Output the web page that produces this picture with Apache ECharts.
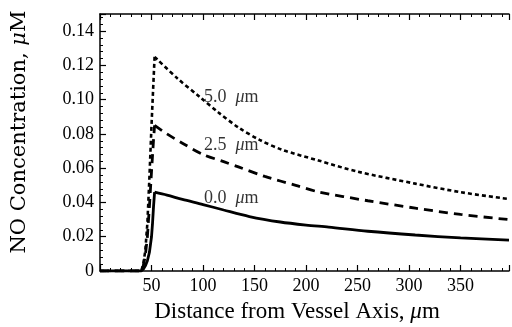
<!DOCTYPE html>
<html>
<head>
<meta charset="utf-8">
<script src="https://cdn.jsdelivr.net/npm/echarts@6/dist/echarts.min.js"></script>
<style>html,body{margin:0;padding:0;background:#fff}#c{width:512px;height:327px}</style>
</head>
<body>
<div id="c"></div>
<script>
// Distance (µm) and NO concentration (µM) for each curve
const xSolid = [0, 40, 42, 44, 46, 48, 50, 51, 52, 53, 65, 80, 100, 120, 145, 175, 200, 222, 260, 306, 350, 397];
const ySolid = [0, 0, 0.001, 0.003, 0.006, 0.011, 0.020, 0.028, 0.038, 0.046, 0.0443, 0.0418, 0.0388, 0.0356, 0.0318, 0.0286, 0.0268, 0.0256, 0.0232, 0.021, 0.0193, 0.018];
const xDash = [0, 40, 42, 44, 46, 48, 50, 52, 53, 65, 80, 100, 120, 135, 160, 190, 212, 260, 306, 350, 397];
const yDash = [0, 0, 0.003, 0.009, 0.020, 0.038, 0.058, 0.077, 0.085, 0.080, 0.0746, 0.068, 0.0638, 0.0606, 0.0552, 0.050, 0.0462, 0.041, 0.0367, 0.033, 0.030];
const xDot = [0, 40, 42, 44, 46, 48, 50, 52, 53, 75, 97, 115, 135, 155, 177, 212, 250, 306, 350, 397];
const yDot = [0, 0, 0.004, 0.012, 0.028, 0.055, 0.085, 0.112, 0.125, 0.1125, 0.1015, 0.0925, 0.0835, 0.0765, 0.0707, 0.0645, 0.058, 0.051, 0.046, 0.042];
const curveLabels = ['0.0  {i|μ}m', '2.5  {i|μ}m', '5.0  {i|μ}m'];
const labelX = [101, 101, 101];
const labelY = [0.0426, 0.0735, 0.1015];
const xTicks = [50, 100, 150, 200, 250, 300, 350];
const yTicks = [0, 0.02, 0.04, 0.06, 0.08, 0.10, 0.12, 0.14];
const xTitle = 'Distance from Vessel Axis, {i|μ}m';
const yTitle = 'NO Concentration, {i|μ}M';

const pairs = (xs, ys) => xs.map((x, i) => [x, ys[i]]);
const peakIndex = ys => ys.indexOf(Math.max(...ys));
const font = 'Liberation Serif';
const chart = echarts.init(document.getElementById('c'), null, {renderer: 'canvas'});
const axisCommon = {
  type: 'value', min: 0, max: 397, interval: 50,
  axisLine: {show: true, onZero: false, lineStyle: {color: '#000', width: 1.5}},
  axisTick: {show: true, inside: true, length: 6, lineStyle: {color: '#000', width: 1.2}},
  minorTick: {show: true, splitNumber: 5, length: 3, lineStyle: {color: '#000', width: 1}},
  splitLine: {show: false}
};
function curve(xs, ys, lineStyle) {
  const all = pairs(xs, ys);
  const k = peakIndex(ys);
  return [
    {type: 'line', data: all.slice(0, k + 1), symbol: 'none', clip: true, lineStyle},
    {type: 'line', data: all.slice(k), symbol: 'none', clip: true, smooth: 0.3, lineStyle}
  ];
}
const italic = size => ({i: {fontFamily: font, fontSize: size, fontStyle: 'italic', fill: '#000', color: '#000'}});
chart.setOption({
  animation: false,
  grid: {left: 100, right: 0, top: 14, bottom: 56, containLabel: false},
  xAxis: [
    Object.assign({}, axisCommon, {
      position: 'bottom',
      axisLabel: {fontFamily: font, fontSize: 18, color: '#000', margin: 6,
        formatter: v => xTicks.includes(v) ? String(v) : ''}
    }),
    Object.assign({}, axisCommon, {position: 'top', axisLabel: {show: false}})
  ],
  yAxis: {
    type: 'value', min: 0, max: 0.15, interval: 0.02,
    axisLine: {show: true, lineStyle: {color: '#000', width: 1.5}},
    axisTick: {show: true, inside: true, length: 6, lineStyle: {color: '#000', width: 1.2}},
    minorTick: {show: true, splitNumber: 5, length: 3, lineStyle: {color: '#000', width: 1}},
    splitLine: {show: false},
    axisLabel: {fontFamily: font, fontSize: 18, color: '#000', margin: 6,
      formatter: v => {
        const t = yTicks.find(k => Math.abs(k - v) < 1e-9);
        if (t === undefined) return '';
        return t === 0 ? '0' : t.toFixed(2);
      }}
  },
  graphic: [
    {type: 'text', x: 297, y: 312, style: {text: xTitle, fontFamily: font, fontSize: 23, fill: '#000',
      align: 'center', verticalAlign: 'middle', rich: italic(23)}},
    {type: 'text', x: 20, y: 132, rotation: Math.PI / 2, style: {text: yTitle, fontFamily: 'DejaVu Serif', fontSize: 21, fill: '#000',
      align: 'center', verticalAlign: 'middle', rich: {i: {fontFamily: 'DejaVu Serif', fontSize: 21, fontStyle: 'italic', fill: '#000'}}}}
  ],
  series: [
    ...curve(xSolid, ySolid, {color: '#000', width: 2.8, type: 'solid'}),
    ...curve(xDash, yDash, {color: '#000', width: 2.8, type: [9, 6]}),
    ...curve(xDot, yDot, {color: '#000', width: 2.6, type: [4, 3]}),
    {type: 'scatter', symbolSize: 0, silent: true,
      data: labelX.map((x, i) => ({value: [x, labelY[i]], name: curveLabels[i]})),
      label: {show: true, position: 'right', distance: 0, formatter: p => p.name,
        fontFamily: font, fontSize: 18, color: '#000', rich: italic(18)}}
  ]
});
</script>
</body>
</html>
